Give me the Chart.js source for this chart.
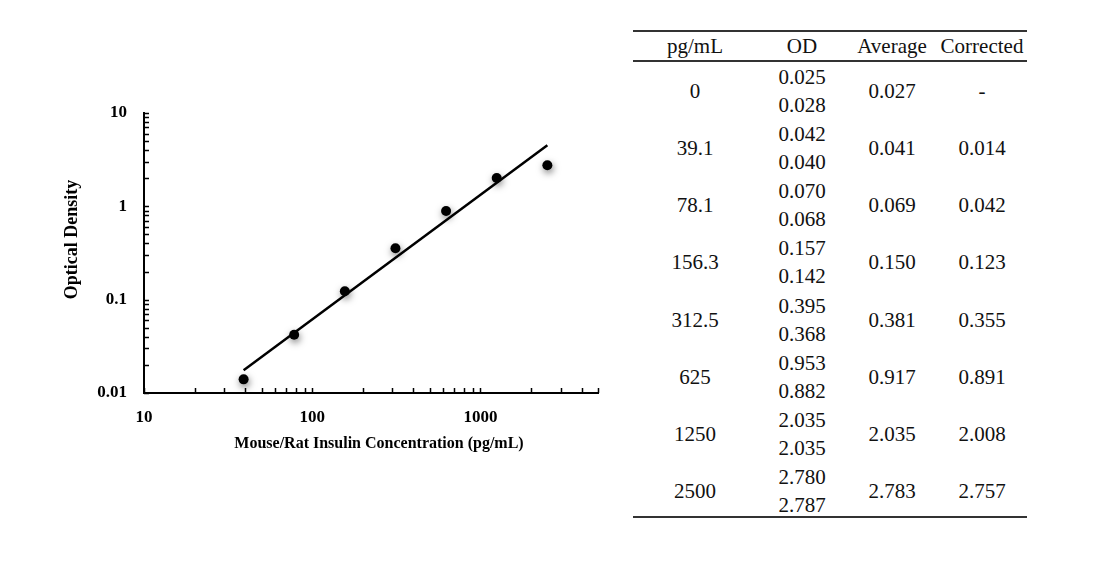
<!DOCTYPE html>
<html>
<head>
<meta charset="utf-8">
<script src="https://cdn.jsdelivr.net/npm/chart.js@4.4.1/dist/chart.umd.min.js"></script>
<style>
body { margin: 0; background: #fff; width: 1110px; height: 568px; overflow: hidden; position: relative; font-family: "Liberation Serif", "DejaVu Serif", serif; }
#chartBox { position: absolute; left: 0; top: 0; width: 620px; height: 480px; }
.rule { position: absolute; left: 633px; width: 394px; height: 0; border-top: 2px solid #333; }
.cell { position: absolute; transform: translate(-50%, -50%); font-size: 21px; color: #111; white-space: nowrap; line-height: 1; }
</style>
</head>
<body>
<div id="chartBox"><canvas id="chart"></canvas></div>
<div id="table"></div>
<script>
// standard curve
const concentrations = [39.1, 78.1, 156.3, 312.5, 625, 1250, 2500];
const correctedOD = [0.014, 0.042, 0.123, 0.355, 0.891, 2.008, 2.757];
const fitLineX = [39.1, 2500];
const fitLineY = [0.0175, 4.5];
const xTickLabels = [10, 100, 1000];
const yTickLabels = [0.01, 0.1, 1, 10];

// table on the right
const tableHeaders = ['pg/mL', 'OD', 'Average', 'Corrected'];
const tableConc = ['0', '39.1', '78.1', '156.3', '312.5', '625', '1250', '2500'];
const odFirst = ['0.025', '0.042', '0.070', '0.157', '0.395', '0.953', '2.035', '2.780'];
const odSecond = ['0.028', '0.040', '0.068', '0.142', '0.368', '0.882', '2.035', '2.787'];
const odAverage = ['0.027', '0.041', '0.069', '0.150', '0.381', '0.917', '2.035', '2.783'];
const odCorrected = ['-', '0.014', '0.042', '0.123', '0.355', '0.891', '2.008', '2.757'];

const serif = '"Liberation Serif", "DejaVu Serif", serif';
const tableDiv = document.getElementById('table');
const colX = [695, 802, 892, 982];

function addCell(text, x, y) {
    const d = document.createElement('div');
    d.className = 'cell';
    d.style.left = x + 'px';
    d.style.top = y + 'px';
    d.textContent = text;
    tableDiv.appendChild(d);
}
function addRule(y) {
    const d = document.createElement('div');
    d.className = 'rule';
    d.style.top = y + 'px';
    tableDiv.appendChild(d);
}

addRule(30);
addRule(60);
addRule(516);
tableHeaders.forEach((h, i) => addCell(h, colX[i], 46));
tableConc.forEach((c, i) => {
    const mid = 91 + i * 57.14;
    addCell(c, colX[0], mid);
    addCell(odFirst[i], colX[1], mid - 14);
    addCell(odSecond[i], colX[1], mid + 14);
    addCell(odAverage[i], colX[2], mid);
    addCell(odCorrected[i], colX[3], mid);
});

function logTicks(min, max) {
    const out = [];
    for (let e = Math.floor(Math.log10(min)); e <= Math.floor(Math.log10(max)); e++) {
        for (let k = 1; k <= 9; k++) {
            const v = Number((k * Math.pow(10, e)).toPrecision(6));
            if (v >= min && v <= max * 1.000001) out.push({ value: v });
        }
    }
    return out;
}

// tick marks point into the plot, like the original
const innerTicks = {
    id: 'innerTicks',
    afterDatasetsDraw(chart) {
        const { ctx, chartArea, scales } = chart;
        ctx.save();
        ctx.strokeStyle = '#000';
        ctx.lineWidth = 1.5;
        ctx.beginPath();
        scales.x.ticks.forEach(t => {
            const px = Math.round(scales.x.getPixelForValue(t.value)) + 0.5;
            ctx.moveTo(px, chartArea.bottom);
            ctx.lineTo(px, chartArea.bottom - 5);
        });
        scales.y.ticks.forEach(t => {
            const py = Math.round(scales.y.getPixelForValue(t.value)) + 0.5;
            ctx.moveTo(chartArea.left, py);
            ctx.lineTo(chartArea.left + 5, py);
        });
        ctx.stroke();
        ctx.restore();
    }
};

const dotShadow = {
    id: 'dotShadow',
    beforeDatasetDraw(chart, args) {
        if (args.index !== 0) return;
        const ctx = chart.ctx;
        ctx.save();
        ctx.shadowColor = 'rgba(0,0,0,0.5)';
        ctx.shadowBlur = 7;
        ctx.shadowOffsetX = 1;
        ctx.shadowOffsetY = 3;
    },
    afterDatasetDraw(chart, args) {
        if (args.index !== 0) return;
        chart.ctx.restore();
    }
};

const tickFont = { family: serif, size: 17, weight: 'bold' };

new Chart(document.getElementById('chart'), {
    type: 'scatter',
    data: {
        datasets: [
            {
                label: 'Corrected OD',
                data: concentrations.map((x, i) => ({ x: x, y: correctedOD[i] })),
                backgroundColor: '#000',
                borderWidth: 0,
                pointRadius: 5,
                order: 0
            },
            {
                label: 'Fit',
                data: fitLineX.map((x, i) => ({ x: x, y: fitLineY[i] })),
                showLine: true,
                borderColor: '#000',
                borderWidth: 2.5,
                pointRadius: 0,
                order: 1
            }
        ]
    },
    options: {
        responsive: true,
        maintainAspectRatio: false,
        animation: false,
        layout: { padding: { top: 113, right: 22, left: 0, bottom: 0 } },
        plugins: { legend: { display: false }, tooltip: { enabled: false } },
        scales: {
            x: {
                type: 'logarithmic',
                min: 10,
                max: 5000,
                grid: { display: false },
                border: { display: true, color: '#000', width: 2 },
                afterBuildTicks: s => { s.ticks = logTicks(10, 5000); },
                afterFit: s => { s.height = 87; },
                ticks: {
                    autoSkip: false,
                    maxRotation: 0,
                    padding: 6,
                    color: '#000',
                    font: tickFont,
                    callback: v => xTickLabels.includes(v) ? String(v) : ''
                },
                title: {
                    display: true,
                    text: '\u2002\u2002Mouse/Rat Insulin Concentration (pg/mL)',
                    color: '#000',
                    font: { family: serif, size: 16, weight: 'bold' },
                    padding: { top: 0, bottom: 27 }
                }
            },
            y: {
                type: 'logarithmic',
                min: 0.01,
                max: 10,
                grid: { display: false },
                border: { display: true, color: '#000', width: 2 },
                afterBuildTicks: s => { s.ticks = logTicks(0.01, 10); },
                afterFit: s => { s.width = 144; },
                ticks: {
                    autoSkip: false,
                    padding: 9,
                    color: '#000',
                    font: tickFont,
                    callback: v => yTickLabels.includes(v) ? String(v) : ''
                },
                title: {
                    display: true,
                    text: '\u2003\u2002Optical Density',
                    color: '#000',
                    font: { family: serif, size: 18, weight: 'bold' },
                    padding: { top: 62, bottom: 0 }
                }
            }
        }
    },
    plugins: [innerTicks, dotShadow]
});
</script>
</body>
</html>
